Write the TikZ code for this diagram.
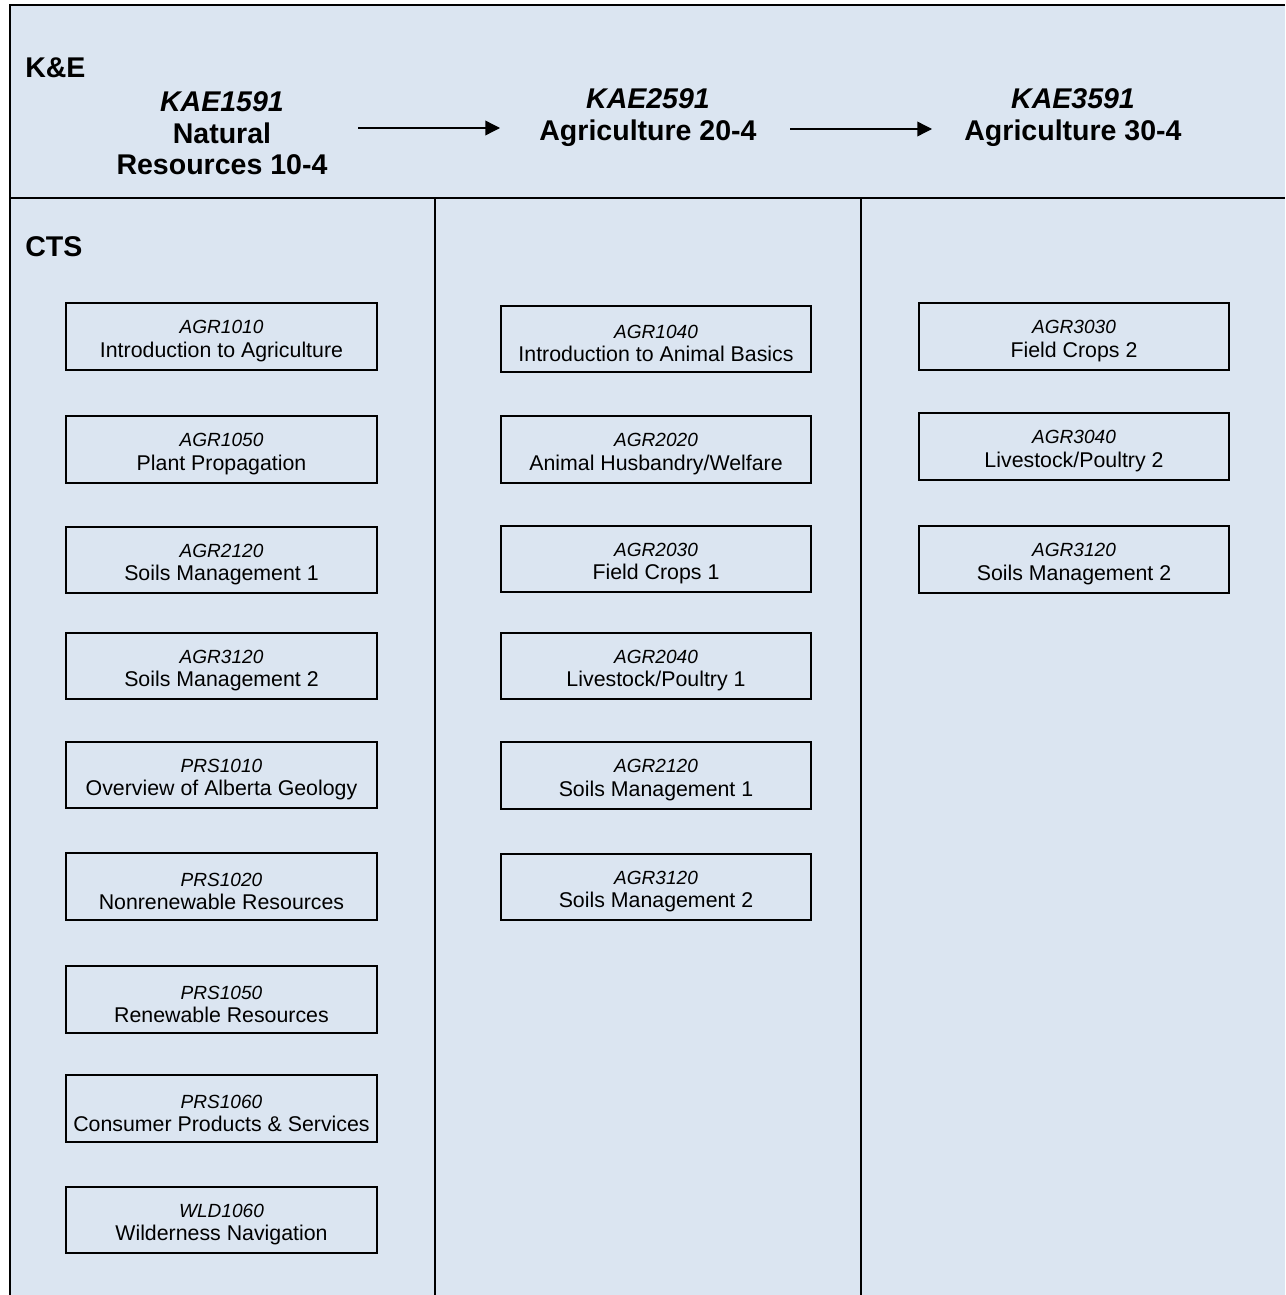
\documentclass[tikz,border=0pt]{standalone}
\usepackage{fontspec}
\setmainfont{Liberation Sans}
\usetikzlibrary{arrows.meta, positioning, calc}
\definecolor{panelblue}{HTML}{DBE5F1}
\definecolor{frameblack}{HTML}{000000}

\tikzset{
  frameline/.style={frameblack, line width=1.6pt},
  headtitle/.style={align=center, inner sep=0pt, font=\fontsize{21.4}{23.6}\selectfont\bfseries},
  sidelabel/.style={anchor=west, inner sep=0pt, font=\fontsize{21.4}{23.6}\selectfont\bfseries},
  coursebox/.style={draw, line width=1.4pt, fill=panelblue, align=center,
    minimum width=233pt, minimum height=50pt, inner sep=0pt,
    font=\fontsize{16}{17.5}\selectfont},
  flowarrow/.style={line width=1pt, -{Triangle[length=11pt, width=11pt]}}
}

\newcommand{\course}[2]{{\fontsize{14.3}{17.5}\selectfont\itshape\rule{0pt}{17pt}#1}\\#2}

\begin{document}
\begin{tikzpicture}[x=0.75pt, y=-0.75pt]
  \useasboundingbox (0,0) rectangle (1285,1295);

  % panel and frame
  \fill[panelblue] (10,5) rectangle (1285,1295);
  \draw[frameline] (1285,5) -- (10,5) -- (10,1295);
  \draw[frameline] (10,198) -- (1285,198);
  \draw[frameline] (435,198) -- (435,1295);
  \draw[frameline] (861,198) -- (861,1295);

  % header row
  \node[sidelabel] (ke) at (25,68) {K\&E};
  \node[sidelabel] (cts) at (25,247) {CTS};

  \node[headtitle] (kae1) at (222,133.5) {\textit{KAE1591}\\Natural\\Resources 10-4};
  \node[headtitle] (kae2) at (648,117.5) {\textit{KAE2591}\\Agriculture 20-4};
  \node[headtitle] (kae3) at (1073,117.5) {\textit{KAE3591}\\Agriculture 30-4};

  \coordinate (a1) at (358,128);
  \coordinate (a2) at (500,128);
  \coordinate (a3) at (790,129);
  \coordinate (a4) at (932,129);
  \draw[flowarrow] (a1) -- (a2);
  \draw[flowarrow] (a3) -- (a4);

  % first column courses
  \foreach \n/\y/\code/\name in {
      1/336.5/AGR1010/{Introduction to Agriculture},
      2/449.5/AGR1050/{Plant Propagation},
      3/560/AGR2120/{Soils Management 1},
      4/666/AGR3120/{Soils Management 2},
      5/775/PRS1010/{Overview of Alberta Geology},
      6/886.5/PRS1020/{Nonrenewable Resources},
      7/999.5/PRS1050/{Renewable Resources},
      8/1108.5/PRS1060/{Consumer Products \& Services},
      9/1220/WLD1060/{Wilderness Navigation}} {
    \node[coursebox] (one\n) at (221.5,\y) {\course{\code}{\name}};
  }

  % second column courses
  \foreach \n/\y/\code/\name in {
      1/339/AGR1040/{Introduction to Animal Basics},
      2/449.5/AGR2020/{Animal Husbandry/Welfare},
      3/559/AGR2030/{Field Crops 1},
      4/666/AGR2040/{Livestock/Poultry 1},
      5/775.5/AGR2120/{Soils Management 1},
      6/887/AGR3120/{Soils Management 2}} {
    \node[coursebox] (two\n) at (656,\y) {\course{\code}{\name}};
  }

  % third column courses
  \foreach \n/\y/\code/\name in {
      1/336.5/AGR3030/{Field Crops 2},
      2/446.5/AGR3040/{Livestock/Poultry 2},
      3/559.5/AGR3120/{Soils Management 2}} {
    \node[coursebox] (three\n) at (1074,\y) {\course{\code}{\name}};
  }
\end{tikzpicture}
\end{document}
